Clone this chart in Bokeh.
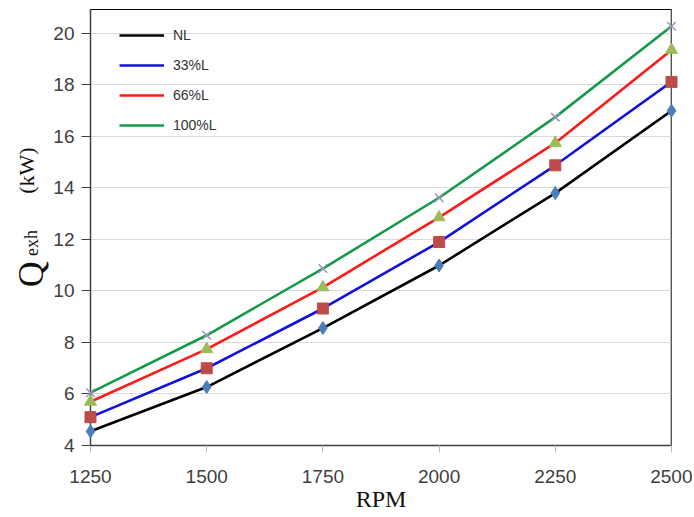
from bokeh.plotting import figure
from bokeh.layouts import row
from bokeh.models import Range1d, Legend, LegendItem, Span, FixedTicker
from bokeh.core.properties import value
from bokeh.embed import file_html
from bokeh.resources import INLINE

rpm = [1250, 1500, 1750, 2000, 2250, 2500]
nl = [4.55, 6.27, 8.56, 10.99, 13.80, 17.00]
l33 = [5.10, 7.00, 9.32, 11.90, 14.88, 18.12]
l66 = [5.70, 7.74, 10.14, 12.86, 15.75, 19.36]
l100 = [6.05, 8.28, 10.87, 13.62, 16.75, 20.28]
series_names = ["NL", "33%L", "66%L", "100%L"]
x_ticks = [1250, 1500, 1750, 2000, 2250, 2500]
y_ticks = [4, 6, 8, 10, 12, 14, 16, 18, 20]

TICK_FONT = "Liberation Sans"
SERIF = "Liberation Serif"
LEFT_W = 50

# ---- left strip holding the y-axis title (Q_exh (kW)) ----
lab = figure(width=LEFT_W, height=517, output_backend="svg", toolbar_location=None,
             x_range=Range1d(0, LEFT_W), y_range=Range1d(0, 517),
             x_axis_type=None, y_axis_type=None,
             min_border_left=0, min_border_right=0, min_border_top=0, min_border_bottom=0)
lab.outline_line_color = None
lab.grid.visible = False
lab.background_fill_color = "white"
lab.border_fill_color = "white"
lab.text(x=[30], y=[203], text=["Q"], angle=1.5708, text_align="center",
         text_baseline="middle", text_font=value(SERIF), text_font_size="36px",
         text_color="#111111")
lab.text(x=[31], y=[240], text=["exh"], angle=1.5708, text_align="center",
         text_baseline="middle", text_font=value(SERIF), text_font_size="18px",
         text_color="#111111")
lab.text(x=[26], y=[326], text=["(kW)"], angle=1.5708, text_align="center",
         text_baseline="middle", text_font=value(SERIF), text_font_size="22px",
         text_color="#111111")

# ---- main chart ----
p = figure(width=692 - LEFT_W, height=517, output_backend="svg", toolbar_location=None,
           x_range=Range1d(1250, 2500), y_range=Range1d(4, 20.93),
           min_border_left=89 - LEFT_W, min_border_right=21, min_border_top=9,
           min_border_bottom=72)

p.background_fill_color = "white"
p.border_fill_color = "white"
p.outline_line_color = "black"
p.outline_line_width = 1

p.xgrid.visible = False
p.ygrid.grid_line_color = "#d9d9d9"
p.ygrid.grid_line_width = 1

p.xaxis.ticker = FixedTicker(ticks=x_ticks)
p.yaxis.ticker = FixedTicker(ticks=y_ticks)
for ax in (p.xaxis, p.yaxis):
    ax.axis_line_color = "#404040"
    ax.axis_line_width = 1.5
    ax.minor_tick_line_color = None
    ax.major_tick_in = 0
    ax.major_label_text_font = TICK_FONT
    ax.major_label_text_font_size = "19px"
    ax.major_label_text_color = "#404040"
p.xaxis.major_tick_out = 7
p.xaxis.major_tick_line_color = "#bbbbbb"
p.xaxis.major_label_standoff = 17
p.yaxis.major_tick_out = 9
p.yaxis.major_tick_line_color = "#404040"
p.yaxis.major_label_standoff = 7

p.xaxis.axis_label = "RPM"
p.xaxis.axis_label_text_font = SERIF
p.xaxis.axis_label_text_font_size = "24px"
p.xaxis.axis_label_text_font_style = "normal"
p.xaxis.axis_label_text_color = "#111111"
p.xaxis.axis_label_standoff = 0

p.add_layout(Span(location=2500, dimension="height", line_color="#a6a6a6", line_width=2.5))

line_colors = ["black", "#1010e0", "#ff1a1a", "#17994a"]
datas = [nl, l33, l66, l100]
items = []
for name, d, c in zip(series_names, datas, line_colors):
    r = p.line(rpm, d, line_color=c, line_width=2.6)
    items.append(LegendItem(label=name, renderers=[r]))

m1 = p.scatter(rpm, nl, marker="diamond", size=13, fill_color="#4a7ebb", line_color="#4a7ebb")
m2 = p.scatter(rpm, l33, marker="square", size=11, fill_color="#be4b48", line_color="#be4b48")
m3 = p.scatter(rpm, l66, marker="triangle", size=12, fill_color="#9bbb59", line_color="#9bbb59")
m4 = p.scatter(rpm, l100, marker="x", size=12, line_color="#9a94b8", line_width=1.5)
for m in (m1, m2, m3, m4):
    m.level = "overlay"

legend = Legend(items=items, location=(29, 310), margin=0, padding=0,
                glyph_width=45, glyph_height=20, label_height=20, spacing=10,
                label_standoff=9, label_text_font=TICK_FONT, label_text_font_size="14px",
                label_text_color="#333333", border_line_color=None,
                background_fill_alpha=0)
p.add_layout(legend)

layout = row(lab, p, spacing=0)
open("out.html", "w").write(file_html(layout, INLINE))
